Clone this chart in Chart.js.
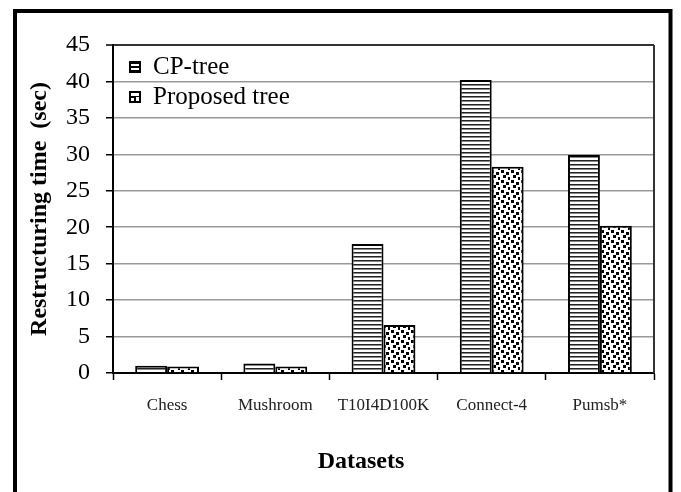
<!DOCTYPE html>
<html>
<head>
<meta charset="utf-8">
<script src="https://cdn.jsdelivr.net/npm/chart.js@4"></script>
<style>
  body { margin: 0; background: #fff; }
  canvas { display: block; }
</style>
</head>
<body>
<canvas id="myChart" width="681" height="492"></canvas>
<script>
const categories = ['Chess', 'Mushroom', 'T10I4D100K', 'Connect-4', 'Pumsb*'];
const cpTree = [1.0, 1.3, 17.7, 40.2, 29.9];
const proposedTree = [0.9, 0.9, 6.6, 28.3, 20.2];
const seriesNames = ['CP-tree', 'Proposed tree'];
const yMax = 45;
const yStep = 5;
const xTitle = 'Datasets';
const yTitle = 'Restructuring time  (sec)';

const serif = "'Liberation Serif', 'Times New Roman', serif";

// fill patterns
function stripes() {
  let c = document.createElement('canvas');
  c.width = 4; c.height = 4;
  let g = c.getContext('2d');
  g.fillStyle = '#fff'; g.fillRect(0, 0, 4, 4);
  g.fillStyle = '#222'; g.fillRect(0, 0, 4, 1);
  g.fillStyle = '#888'; g.fillRect(0, 1, 4, 1);
  return g.createPattern(c, 'repeat');
}

function dots() {
  let c = document.createElement('canvas');
  c.width = 10; c.height = 10;
  let g = c.getContext('2d');
  g.fillStyle = '#fff'; g.fillRect(0, 0, 10, 10);
  g.fillStyle = '#000';
  [[1, 0], [6, 2], [3, 5], [8, 7]].forEach(p => g.fillRect(p[0], p[1], 3, 3));
  return g.createPattern(c, 'repeat');
}

const fills = [stripes(), dots()];

const decor = {
  id: 'decor',
  afterDraw(chart) {
    const ctx = chart.ctx;
    const a = chart.chartArea;
    ctx.save();
    // plot frame right side
    ctx.strokeStyle = '#333';
    ctx.lineWidth = 2;
    ctx.beginPath();
    ctx.moveTo(a.right, a.top);
    ctx.lineTo(a.right, a.bottom);
    ctx.stroke();

    // legend inside plot
    ctx.font = '25px ' + serif;
    ctx.textBaseline = 'middle';
    const rows = [67, 97];
    rows.forEach((y, i) => {
      ctx.fillStyle = '#000';
      ctx.fillRect(129, y - 6, 12, 12);
      ctx.fillStyle = '#fff';
      if (i === 0) {
        ctx.fillRect(131, y - 3, 8, 2);
        ctx.fillRect(131, y + 1, 8, 2);
      } else {
        ctx.fillRect(131, y - 4, 8, 3);
        ctx.fillRect(131, y + 1, 3, 3);
        ctx.fillRect(136, y, 3, 4);
      }
      ctx.fillStyle = '#000';
      ctx.fillText(seriesNames[i], 153, y);
    });

    // x axis title
    ctx.font = 'bold 24px ' + serif;
    ctx.textAlign = 'center';
    ctx.fillText(xTitle, 361, 462);

    // outer frame
    ctx.strokeStyle = '#000';
    ctx.lineWidth = 4;
    ctx.strokeRect(15, 11, 655.5, 500);
    ctx.restore();
  }
};

const ctx = document.getElementById('myChart');

new Chart(ctx, {
  type: 'bar',
  data: {
    labels: categories,
    datasets: [{
      label: seriesNames[0],
      data: cpTree,
      backgroundColor: fills[0],
      borderColor: '#000',
      borderWidth: 2
    }, {
      label: seriesNames[1],
      data: proposedTree,
      backgroundColor: fills[1],
      borderColor: '#000',
      borderWidth: 2
    }]
  },
  options: {
    responsive: false,
    animation: false,
    devicePixelRatio: 1,
    categoryPercentage: 0.59,
    barPercentage: 1,
    layout: { padding: { top: 45, right: 27, left: 0, bottom: 0 } },
    plugins: {
      legend: { display: false },
      tooltip: { enabled: false }
    },
    scales: {
      x: {
        afterFit: s => { s.height = 119; },
        grid: { drawOnChartArea: false, tickLength: 7, tickColor: '#000', tickWidth: 1.5 },
        border: { color: '#000', width: 2 },
        ticks: { font: { family: serif, size: 17 }, color: '#222', padding: 15, maxRotation: 0 }
      },
      y: {
        min: 0,
        max: yMax,
        afterFit: s => { s.width = 113; },
        ticks: { stepSize: yStep, font: { family: serif, size: 24 }, color: '#000', padding: 16 },
        grid: {
          color: c => c.tick && c.tick.value === yMax ? '#333' : '#999',
          lineWidth: c => c.tick && c.tick.value === yMax ? 2 : 1.5,
          tickLength: 7,
          tickColor: '#000',
          tickWidth: 1.5
        },
        border: { color: '#000', width: 2 },
        title: {
          display: true,
          text: yTitle,
          font: { family: serif, size: 24, weight: 'bold' },
          color: '#000',
          padding: { top: 25, bottom: 0 }
        }
      }
    }
  },
  plugins: [decor]
});
</script>
</body>
</html>
